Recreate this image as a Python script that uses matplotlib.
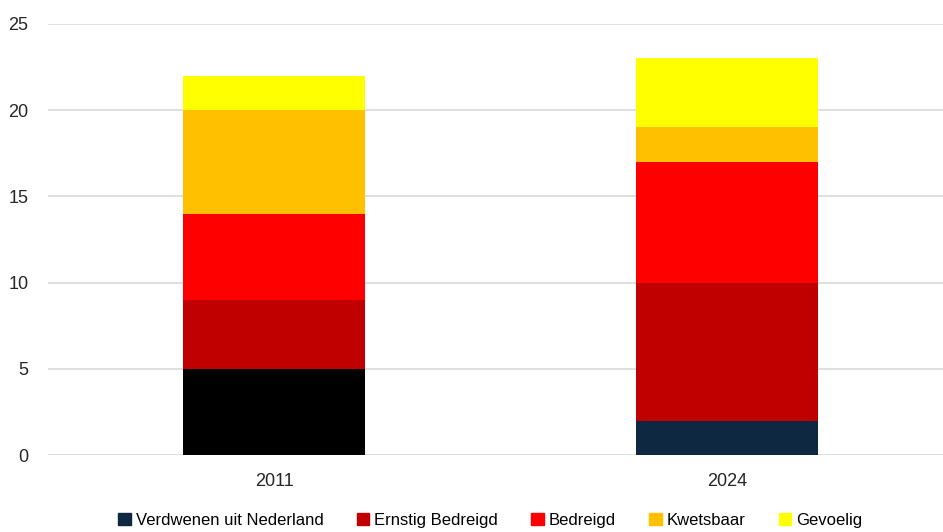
import matplotlib
matplotlib.use('Agg')
import matplotlib.pyplot as plt
import numpy as np

years = ['2011', '2024']
categories = ['Verdwenen uit Nederland', 'Ernstig Bedreigd', 'Bedreigd', 'Kwetsbaar', 'Gevoelig']
verdwenen = [5, 2]
ernstig = [4, 8]
bedreigd = [5, 7]
kwetsbaar = [6, 2]
gevoelig = [2, 4]
series = [verdwenen, ernstig, bedreigd, kwetsbaar, gevoelig]
colors = ['#0E2841', '#C00000', '#FF0000', '#FFC000', '#FFFF00']

plt.rcParams['font.family'] = ['Liberation Sans', 'DejaVu Sans']
fig = plt.figure(figsize=(9.43, 5.32), dpi=100)
ax = fig.add_axes([48/943, 77/532, 1 - 48/943, (455 - 24)/532])
x = np.arange(len(years))
bottom = np.zeros(len(years))
for name, vals, c in zip(categories, series, colors):
    cols = [c] * len(years)
    if name == 'Verdwenen uit Nederland':
        cols[0] = '#000000'
    ax.bar(x, vals, 0.4, bottom=bottom, color=cols, label=name, zorder=3)
    bottom += np.array(vals)

ax.set_xlim(-0.499, 1.477)
ax.set_ylim(0, 25)
ax.set_yticks(range(0, 26, 5))
ax.set_xticks(x, years)
ax.grid(axis='y', color='#D9D9D9', lw=1.2, zorder=0)
for s in ax.spines.values():
    s.set_visible(False)
ax.tick_params(length=0, labelsize=13, colors='#262626')
ax.tick_params(axis='y', pad=14)
ax.tick_params(axis='x', pad=13)

handles = [plt.Rectangle((0, 0), 1, 1, color=c) for c in colors]
fig.legend(handles, categories, loc='lower center', bbox_to_anchor=(0.52, -0.02), ncol=5, frameon=False,
           handlelength=0.75, handleheight=0.75, handletextpad=0.3, columnspacing=2.0,
           prop={'size': 12})
fig.savefig('out.png', dpi=100)
